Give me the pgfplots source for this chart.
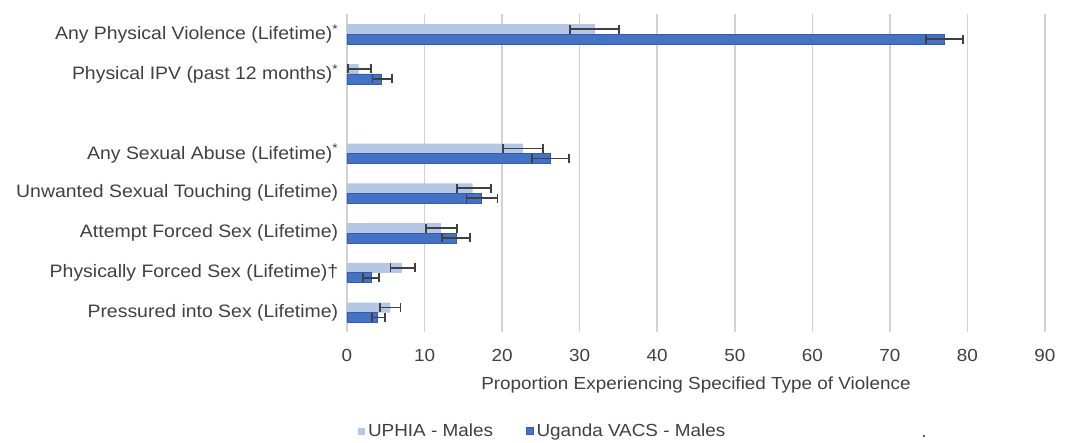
\documentclass[border=0pt]{standalone}
\usepackage{pgfplots}
\pgfplotsset{compat=1.18}
\usepackage{pgfplotstable}
\usepackage{fontspec}
\setmainfont{Liberation Sans}[FakeStretch=1.08]
\definecolor{uphia}{RGB}{180,199,231}
\definecolor{vacs}{RGB}{68,114,196}
\definecolor{vacsedge}{RGB}{52,92,168}
\definecolor{errc}{RGB}{64,64,64}
\definecolor{txt}{RGB}{64,64,64}
\definecolor{gridc}{RGB}{210,210,210}

% y: category position; x: proportion; ep/em: error plus / minus
\pgfplotstableread{
y x ep em
0 32.0 3.1 3.2
1 1.5 1.6 1.4
3 22.7 2.6 2.6
4 16.2 2.4 2.0
5 12.1 2.1 1.9
6 7.1 1.7 1.5
7 5.6 1.3 1.3
}\uphiatab
\pgfplotstableread{
y x ep em
0 77.0 2.4 2.3
1 4.4 1.4 1.1
3 26.2 2.4 2.3
4 17.3 2.1 1.9
5 14.1 1.8 1.8
6 3.1 1.0 1.0
7 3.9 1.0 0.7
}\vacstab

\pgfplotsset{myerr/.style={error bars/.cd, x dir=both, x explicit,
  error mark=|,
  error bar style={errc, line width=1.8pt, solid},
  error mark options={errc, line width=1.8pt, mark size=4.5pt, solid}}}

\begin{document}
\begin{tikzpicture}
\path[use as bounding box] (0pt,0pt) rectangle (1071pt,-442pt);
\begin{axis}[
  at={(347pt,-332pt)}, anchor=south west,
  scale only axis, width=698pt, height=318.5pt,
  xbar, y dir=reverse,
  xmin=0, xmax=90, ymin=-0.52, ymax=7.49,
  xtick={0,10,...,90},
  ytick={0,1,3,4,5,6,7},
  yticklabels={Any Physical Violence (Lifetime)\textsuperscript{*},
    Physical IPV (past 12 months)\textsuperscript{*},
    Any Sexual Abuse (Lifetime)\textsuperscript{*},
    Unwanted Sexual Touching (Lifetime),
    Attempt Forced Sex (Lifetime),
    Physically Forced Sex (Lifetime)\textdagger,
    Pressured into Sex (Lifetime)},
  /pgf/number format/assume math mode=true,
  xmajorgrids, major grid style={gridc, line width=1.6pt},
  axis line style={draw=none}, tick style={draw=none},
  yticklabel style={font=\fontsize{18}{20}\selectfont, text=txt, xshift=-1pt},
  xticklabel style={font=\fontsize{17.5}{20}\selectfont, text=txt, yshift=-14pt},
  xlabel={Proportion Experiencing Specified Type of Violence},
  xlabel style={font=\fontsize{17.5}{20}\selectfont, text=txt, yshift=-8pt},
  bar width=0.25,
  legend columns=2,
  legend style={at={(0.0155,-0.311)}, anchor=west, draw=none, fill=none,
    inner sep=0pt, font=\fontsize{17.5}{20}\selectfont, text=txt,
    /tikz/every even column/.append style={column sep=30pt},
    nodes={inner xsep=3pt}},
  legend image code/.code={\fill[#1] (0pt,-3.5pt) rectangle (7pt,3.5pt);},
]
\addplot[fill=uphia, draw=none, bar shift=-0.125, myerr]
  table[x=x, y=y, x error plus=ep, x error minus=em] {\uphiatab};
\addlegendentry{UPHIA - Males}
\addplot[fill=vacs, draw=vacsedge, line width=0.6pt, bar shift=0.125, myerr]
  table[x=x, y=y, x error plus=ep, x error minus=em] {\vacstab};
\addlegendentry{Uganda VACS - Males}
\end{axis}
\node[text=txt, font=\fontsize{17.5}{20}\selectfont, anchor=base] at (924pt,-437pt) {.};
\end{tikzpicture}
\end{document}
